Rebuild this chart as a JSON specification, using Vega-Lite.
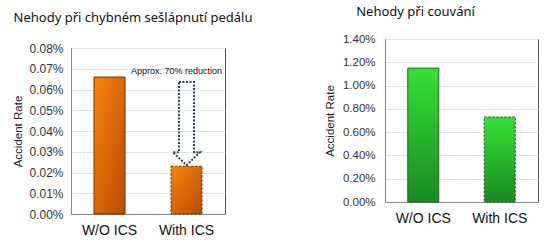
{
  "$schema": "https://vega.github.io/schema/vega-lite/v6.json",
  "background": "white",
  "padding": {"left": 12, "top": 5, "right": 5, "bottom": 5},
  "spacing": 70,
  "config": {
    "view": {"stroke": "#555", "strokeWidth": 1},
    "font": "Liberation Sans",
    "title": {"font": "Noto Sans", "fontSize": 13, "fontWeight": "normal", "color": "#111"},
    "axis": {"labelFont": "Liberation Sans", "titleFont": "Liberation Sans", "labelColor": "#333", "titleColor": "#222", "titleFontWeight": "normal"}
  },
  "datasets": {
    "pedal": [
      {"group": "W/O ICS", "rate": 0.00066},
      {"group": "With ICS", "rate": 0.00023}
    ],
    "reverse": [
      {"group": "W/O ICS", "rate": 0.0115},
      {"group": "With ICS", "rate": 0.0073}
    ],
    "arrow": [
      {"group": "With ICS", "mid": 0.000436, "label": "Approx. 70% reduction", "labelY": 0.00069}
    ],
    "none": []
  },
  "hconcat": [
    {
      "spacing": 1,
      "vconcat": [
        {
          "width": 154,
          "height": 1,
          "view": {"stroke": null},
          "title": {"text": "Nehody při chybném sešlápnutí pedálu", "offset": 11, "dx": -15, "dy": -3},
          "data": {"name": "none"},
          "mark": {"type": "rule"},
          "encoding": {}
        },
        {
          "width": 154,
          "height": 166,
          "layer": [
            {
              "data": {"name": "pedal"},
              "mark": {
                "type": "bar",
                "width": 31,
                "stroke": "#6a3000",
                "strokeWidth": 1,
                "color": {"gradient": "linear", "x1": 0, "y1": 0, "x2": 1, "y2": 1, "stops": [{"offset": 0, "color": "#f8840f"}, {"offset": 1, "color": "#b84c02"}]}
              },
              "encoding": {
                "x": {"field": "group", "type": "nominal", "sort": null, "scale": {"paddingInner": 0, "paddingOuter": 0}, "axis": {"title": null, "labelAngle": 0, "labelFontSize": 14, "labelColor": "#111", "ticks": false, "labelPadding": 9, "domainColor": "#888"}},
                "y": {"field": "rate", "type": "quantitative", "scale": {"domain": [0, 0.0008]}, "axis": {"title": "Accident Rate", "titleFontSize": 11.5, "titlePadding": 5, "format": ".2%", "tickCount": 8, "labelFontSize": 12, "ticks": false, "labelPadding": 8, "gridColor": "#e4e4e4", "domainColor": "#888"}},
                "strokeDash": {"field": "group", "type": "nominal", "scale": {"domain": ["W/O ICS", "With ICS"], "range": [[1, 0], [2.5, 1.5]]}, "legend": null}
              }
            },
            {
              "data": {"name": "arrow"},
              "mark": {"type": "point", "shape": "M -0.18 -1 L 0.18 -1 L 0.18 0.69 L 0.33 0.69 L 0 1 L -0.33 0.69 L -0.18 0.69 Z", "size": 6900, "filled": false, "stroke": "#22406e", "strokeWidth": 2, "strokeDash": [2, 1.5], "opacity": 1},
              "encoding": {
                "x": {"field": "group", "type": "nominal"},
                "y": {"field": "mid", "type": "quantitative"}
              }
            },
            {
              "data": {"name": "arrow"},
              "mark": {"type": "text", "fontSize": 9, "dx": -10, "color": "#111", "font": "Liberation Sans"},
              "encoding": {
                "x": {"field": "group", "type": "nominal"},
                "y": {"field": "labelY", "type": "quantitative"},
                "text": {"field": "label"}
              }
            }
          ]
        }
      ]
    },
    {
      "width": 153,
      "height": 163,
      "title": {"text": "Nehody při couvání", "offset": 14, "dx": -46},
      "data": {"name": "reverse"},
      "mark": {
        "type": "bar",
        "width": 31,
        "stroke": "#2a5a2a",
        "strokeWidth": 1,
        "color": {"gradient": "linear", "x1": 0, "y1": 0, "x2": 0, "y2": 1, "stops": [{"offset": 0, "color": "#36e036"}, {"offset": 1, "color": "#1a8a22"}]}
      },
      "encoding": {
        "x": {"field": "group", "type": "nominal", "sort": null, "scale": {"paddingInner": 0, "paddingOuter": 0}, "axis": {"title": null, "labelAngle": 0, "labelFontSize": 14, "labelColor": "#111", "ticks": false, "labelPadding": 9, "domainColor": "#888"}},
        "y": {"field": "rate", "type": "quantitative", "scale": {"domain": [0, 0.014]}, "axis": {"title": "Accident Rate", "titleFontSize": 11.5, "titlePadding": 7, "format": ".2%", "tickCount": 7, "labelFontSize": 11.5, "ticks": false, "labelPadding": 10, "gridColor": "#e4e4e4", "domainColor": "#888"}},
        "strokeDash": {"field": "group", "type": "nominal", "scale": {"domain": ["W/O ICS", "With ICS"], "range": [[1, 0], [2.5, 1.5]]}, "legend": null}
      }
    }
  ]
}
